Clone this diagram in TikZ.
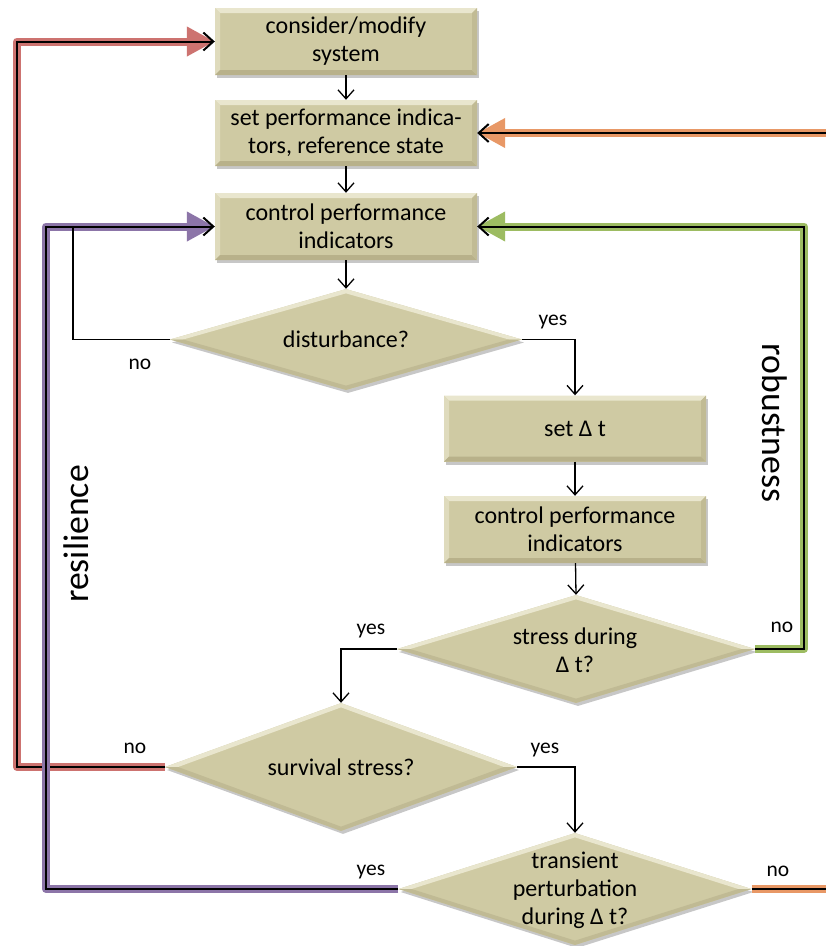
\documentclass[tikz,border=0pt]{standalone}
\usepackage{fontspec}
\setmainfont{Carlito}
\usetikzlibrary{arrows.meta,shapes.geometric,shadows}
\definecolor{boxfill}{RGB}{207,202,163}
\definecolor{bevlight}{RGB}{233,230,206}
\definecolor{bevdark}{RGB}{184,177,138}
\definecolor{diadark}{RGB}{192,186,148}
\definecolor{fbred}{RGB}{205,115,112}
\definecolor{fbpurple}{RGB}{140,117,168}
\definecolor{fbgreen}{RGB}{157,188,98}
\definecolor{fborange}{RGB}{232,152,102}
\tikzset{
  x=1pt, y=-1pt,
  shad/.style={drop shadow={shadow xshift=2pt,shadow yshift=-3pt,fill=black,opacity=0.22}},
  boxnode/.style={rectangle, fill=boxfill, minimum width=262pt, minimum height=67pt,
    inner sep=0pt, align=center, font=\fontsize{24}{28}\selectfont, shad,
    path picture={
      \fill[bevlight] (path picture bounding box.north west) -- (path picture bounding box.north east)
        -- ([xshift=-5pt,yshift=-5pt]path picture bounding box.north east)
        -- ([xshift=5pt,yshift=-5pt]path picture bounding box.north west) -- cycle;
      \fill[bevlight!60!boxfill] (path picture bounding box.north west) -- (path picture bounding box.south west)
        -- ([xshift=5pt,yshift=5pt]path picture bounding box.south west)
        -- ([xshift=5pt,yshift=-5pt]path picture bounding box.north west) -- cycle;
      \fill[bevdark] (path picture bounding box.south west) -- (path picture bounding box.south east)
        -- ([xshift=-5pt,yshift=5pt]path picture bounding box.south east)
        -- ([xshift=5pt,yshift=5pt]path picture bounding box.south west) -- cycle;
      \fill[bevdark!60!boxfill] (path picture bounding box.north east) -- (path picture bounding box.south east)
        -- ([xshift=-5pt,yshift=5pt]path picture bounding box.south east)
        -- ([xshift=-5pt,yshift=-5pt]path picture bounding box.north east) -- cycle;
    }},
  dia/.style={diamond, fill=boxfill, inner sep=0pt, shad,
    path picture={
      \fill[bevlight] (path picture bounding box.west) -- (path picture bounding box.north)
        -- (path picture bounding box.east) -- ([xshift=-13pt]path picture bounding box.east)
        -- ([yshift=-4.3pt]path picture bounding box.north)
        -- ([xshift=13pt]path picture bounding box.west) -- cycle;
      \fill[diadark] (path picture bounding box.west) -- (path picture bounding box.south)
        -- (path picture bounding box.east) -- ([xshift=-13pt]path picture bounding box.east)
        -- ([yshift=4.3pt]path picture bounding box.south)
        -- ([xshift=13pt]path picture bounding box.west) -- cycle;
    }},
  dtext/.style={align=center, inner sep=0pt, font=\fontsize{24}{28}\selectfont},
  lbl/.style={anchor=base, inner sep=0pt, font=\fontsize{21.5}{26}\selectfont},
  side/.style={inner sep=0pt, font=\fontsize{35.7}{40}\selectfont},
  flow/.style={line width=1.3pt, -{Straight Barb[length=9pt,width=16pt]}},
  fbc/.style={line width=8pt, draw=#1, line join=round, -{Triangle[length=28pt,width=28pt]}},
  fbcn/.style={line width=8pt, draw=#1, line join=round},
  fbk/.style={line width=2pt, -{Straight Barb[length=10pt,width=18pt]}},
  fbkn/.style={line width=2pt},
}
\begin{document}
\begin{tikzpicture}
\useasboundingbox (0,0) rectangle (826,946);
\fill[white] (0,0) rectangle (826,946);

% helper coordinates
\coordinate (xR) at (17,0);
\coordinate (xP) at (46,0);
\coordinate (xN) at (73,0);
\coordinate (xG) at (804,0);
\coordinate (edgeR) at (826,0);

% boxes
\node[boxnode] (b1) at (346,41.5) {consider/modify\\system};
\node[boxnode, minimum height=66pt] (b2) at (346,133) {set performance indica-\\tors, reference state};
\node[boxnode] (b3) at (346,226.5) {control performance\\indicators};
\node[boxnode, minimum height=66pt] (b4) at (575,428.5) {set Δ t};
\node[boxnode] (b5) at (575,529.5) {control performance\\indicators};

% diamonds
\node[dia, minimum width=352pt, minimum height=101pt] (dist) at (346,339.5) {};
\node[dtext] (distT) at (dist.center) {disturbance?};
\node[dia, minimum width=358pt, minimum height=108pt] (stress) at (576,649) {};
\node[dtext] (stressT) at (575,650) {stress during\\Δ t?};
\node[dia, minimum width=352pt, minimum height=128pt] (surv) at (341,767) {};
\node[dtext] (survT) at (surv.center) {survival stress?};
\node[dia, minimum width=353pt, minimum height=112pt] (trans) at (575,889) {};
\node[dtext] (transT) at (575,890) {transient\\perturbation\\during Δ t?};

% main flow
\draw[flow] (b1) -- (b2);
\draw[flow] (b2) -- (b3);
\draw[flow] (b3) -- (dist.north);
\draw[flow] (dist.east) -| (b4.north);
\draw[flow] (b4) -- (b5);
\draw[flow] (b5) -- (stress.north);
\draw[flow] (stress.west) -| (surv.north);
\draw[flow] (surv.east) -| (trans.north);

% feedback loops
\draw[fbc=fbred] (surv.west) -- (surv.west -| xR) |- (b1.west);
\draw[fbk] (surv.west) -- (surv.west -| xR) |- (b1.west);

\draw[fbc=fbpurple] (trans.west) -- (trans.west -| xP) |- (b3.west);
\draw[fbk] (trans.west) -- (trans.west -| xP) |- (b3.west);

\draw[line width=1.3pt] (dist.west) -- (dist.west -| xN) -- (xN |- b3.west);

\draw[fbc=fbgreen] (stress.east) -- (stress.east -| xG) |- (b3.east);
\draw[fbk] (stress.east) -- (stress.east -| xG) |- (b3.east);

\draw[fbc=fborange] (b2.east -| edgeR) -- (b2.east);
\draw[fbk] (b2.east -| edgeR) -- (b2.east);
\draw[fbcn=fborange] (trans.east) -- (trans.east -| edgeR);
\draw[fbkn] (trans.east) -- (trans.east -| edgeR);

% labels
\node[lbl] (l1) at (140,369) {no};
\node[lbl] (l2) at (553,325) {yes};
\node[lbl] (l3) at (371,634) {yes};
\node[lbl] (l4) at (782,632) {no};
\node[lbl] (l5) at (135,753) {no};
\node[lbl] (l6) at (545,753) {yes};
\node[lbl] (l7) at (371,875) {yes};
\node[lbl] (l8) at (778,876) {no};

\node[side, rotate=-90] (rob) at (775,423) {robustness};
\node[side, rotate=90] (res) at (76,534) {resilience};
\end{tikzpicture}
\end{document}
